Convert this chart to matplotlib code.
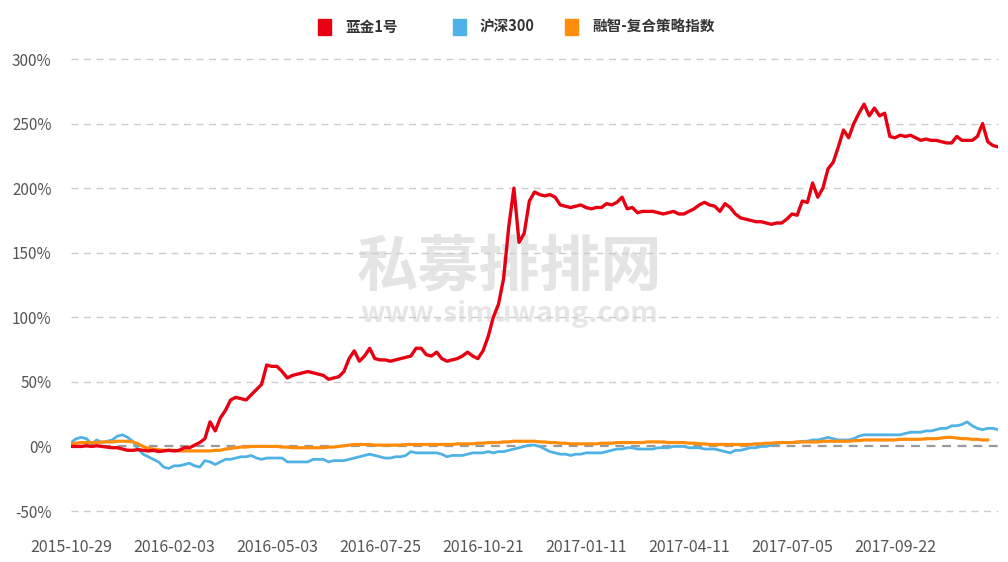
import matplotlib
matplotlib.use("Agg")
import matplotlib.pyplot as plt

plt.rcParams['font.family'] = ['Noto Sans CJK SC', 'DejaVu Sans']

tick_labels = ["2015-10-29", "2016-02-03", "2016-05-03", "2016-07-25", "2016-10-21",
               "2017-01-11", "2017-04-11", "2017-07-05", "2017-09-22"]
series_names = ["蓝金1号", "沪深300", "融智-复合策略指数"]

lanjin = [0, 0, 0, 0.5, 0, 0.5, 0, -0.5, -1, -1,
          -2, -3, -3, -2.5, -3, -3.5, -3, -4, -3.5, -3,
          -3.5, -3, -1, -1, 1, 3, 6, 19, 12, 22,
          28, 36, 38, 37, 36, 40, 44, 48, 63, 62,
          62, 58, 53, 55, 56, 57, 58, 57, 56, 55,
          52, 53, 54, 58, 68, 74, 66, 70, 76, 68,
          67, 67, 66, 67, 68, 69, 70, 76, 76, 71,
          70, 73, 68, 66, 67, 68, 70, 73, 70, 68,
          74, 85, 100, 110, 130, 170, 200, 158, 165, 190,
          197, 195, 194, 195, 193, 187, 186, 185, 186, 187,
          185, 184, 185, 185, 188, 187, 189, 193, 184, 185,
          181, 182, 182, 182, 181, 180, 181, 182, 180, 180,
          182, 184, 187, 189, 187, 186, 182, 188, 185, 180,
          177, 176, 175, 174, 174, 173, 172, 173, 173, 176,
          180, 179, 190, 189, 204, 193, 200, 215, 220, 232,
          245, 239, 250, 258, 265, 256, 262, 256, 258, 240,
          239, 241, 240, 241, 239, 237, 238, 237, 237, 236,
          235, 235, 240, 237, 237, 237, 240, 250, 236, 233,
          232]

hs300 = [3, 6, 7, 6, 2, 5, 3, 4, 5, 8,
         9, 7, 4, -2, -6, -8, -10, -12, -16, -17,
         -15, -15, -14, -13, -15, -16, -11, -12, -14, -12,
         -10, -10, -9, -8, -8, -7, -9, -10, -9, -9,
         -9, -9, -12, -12, -12, -12, -12, -10, -10, -10,
         -12, -11, -11, -11, -10, -9, -8, -7, -6, -7,
         -8, -9, -9, -8, -8, -7, -4, -5, -5, -5,
         -5, -5, -6, -8, -7, -7, -7, -6, -5, -5,
         -5, -4, -5, -4, -4, -3, -2, -1, 0, 1,
         1, 0, -2, -4, -5, -6, -6, -7, -6, -6,
         -5, -5, -5, -5, -4, -3, -2, -2, -1, -1,
         -2, -2, -2, -2, -1, -1, -1, 0, 0, 0,
         -1, -1, -1, -2, -2, -2, -3, -4, -5, -3,
         -3, -2, -1, -1, 0, 0, 1, 2, 3, 3,
         3, 3, 4, 4, 5, 5, 6, 7, 6, 5,
         5, 5, 6, 8, 9, 9, 9, 9, 9, 9,
         9, 9, 10, 11, 11, 11, 12, 12, 13, 14,
         14, 16, 16, 17, 19, 16, 14, 13, 14, 14,
         13]

rongzhi = [2, 2.5, 3, 3, 3, 3, 3.5, 3.5, 3.5, 4,
           4, 4, 3.5, 2, 0, -1.5, -2, -2.5, -3, -3,
           -3, -3.5, -3.5, -3.5, -3.5, -3.5, -3.5, -3.5, -3, -3,
           -2, -1.5, -1, -0.5, -0.5, 0, 0, 0, 0, 0,
           0, -0.5, -0.5, -1, -1, -1, -1, -1, -1, -1,
           -0.5, -0.5, 0, 0.5, 1, 1.5, 1.5, 1.5, 1.5, 1,
           1, 1, 1, 1, 1, 1.5, 1.5, 1.5, 1.5, 1.5,
           1.5, 1.5, 1.5, 1.5, 1.5, 2, 2, 2, 2, 2.5,
           2.5, 3, 3, 3, 3.5, 3.5, 4, 4, 4, 4,
           4, 3.5, 3.5, 3, 3, 2.5, 2.5, 2, 2, 2,
           2, 2, 2, 2.5, 2.5, 2.5, 3, 3, 3, 3,
           3, 3, 3.5, 3.5, 3.5, 3.5, 3, 3, 3, 3,
           2.5, 2.5, 2, 2, 1.5, 1.5, 1.5, 1.5, 1.5, 1.5,
           1.5, 1.5, 1.5, 2, 2, 2.5, 2.5, 3, 3, 3,
           3, 3.5, 3.5, 3.5, 3.5, 3.5, 4, 4, 4, 4,
           4, 4, 4.5, 4.5, 5, 5, 5, 5, 5, 5,
           5, 5.5, 5.5, 5.5, 5.5, 5.5, 6, 6, 6, 6.5,
           7, 7, 6.5, 6, 6, 5.5, 5.5, 5, 5]

yticks = [-50, 0, 50, 100, 150, 200, 250, 300]

fig = plt.figure(figsize=(10.08, 5.62), dpi=100)
ax = fig.add_axes([71/1008, 1-511/562, 927/1008, 452/562])

colors = ["#E60012", "#4FB2E6", "#FF8C0A"]
ax.plot(range(len(hs300)), hs300, color=colors[1], lw=2.0, zorder=3)
ax.plot(range(len(rongzhi)), rongzhi, color=colors[2], lw=2.3, zorder=4)
ax.plot(range(len(lanjin)), lanjin, color=colors[0], lw=2.4, zorder=5)

ax.set_xlim(0, len(lanjin) - 1)
ax.set_ylim(-50, 300)
for v in yticks:
    if v == 0:
        ax.axhline(v, color="#9a9a9a", lw=1.6, ls=(0, (4, 3)), zorder=2, clip_on=False)
    else:
        ax.axhline(v, color="#cccccc", lw=1.0, ls=(0, (5, 4)), zorder=1, clip_on=False)

ax.set_yticks(yticks)
ax.set_yticklabels([f"{v}%" for v in yticks])
ax.set_xticks([20 * i for i in range(len(tick_labels))])
ax.set_xticklabels(tick_labels)
ax.tick_params(axis='both', length=0, colors="#555555")
ax.tick_params(axis='x', pad=20, labelsize=11.5)
ax.tick_params(axis='y', pad=14, labelsize=11)
for s in ax.spines.values():
    s.set_visible(False)

# watermark (behind the lines)
ax.text(0.506, 1-268/562, "私募排排网", fontsize=44, fontweight='bold',
        color="#e4e4e4", ha='center', va='center', zorder=0.5,
        transform=fig.transFigure)
ax.text(0.505, 1-314/562, "www.simuwang.com", fontsize=20.5, fontweight='bold',
        color="#e6e6e6", ha='center', va='center', zorder=0.5,
        transform=fig.transFigure)

# legend
legend_x = [318, 453, 565]
for x0, name, c in zip(legend_x, series_names, colors):
    fig.patches.append(plt.Rectangle((x0/1008, 1-35/562), 13/1008, 16/562,
                                     transform=fig.transFigure, color=c, figure=fig))
    fig.text((x0+27)/1008, 1-27/562, name, fontsize=10.5, color="#333333",
             ha='left', va='center', fontweight='bold')

fig.savefig("out.png", dpi=100)
